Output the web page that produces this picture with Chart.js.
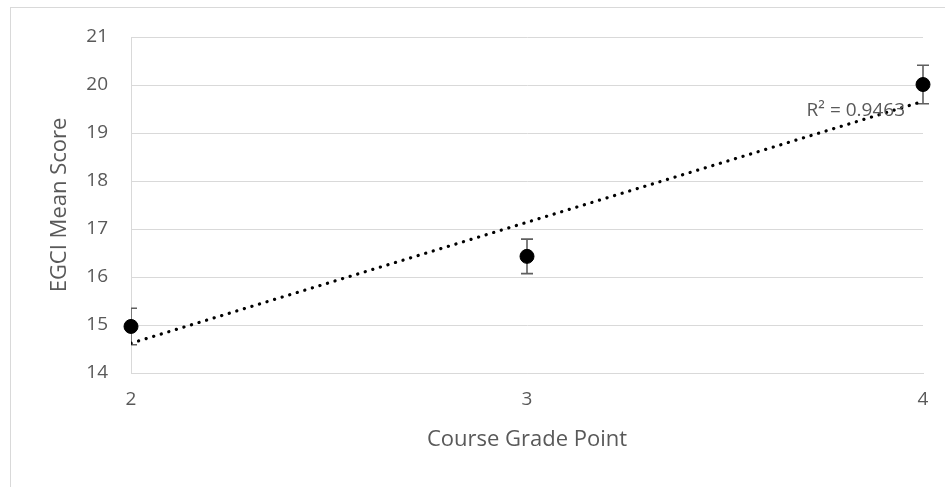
<!DOCTYPE html>
<html>
<head>
<meta charset="utf-8">
<script src="https://cdn.jsdelivr.net/npm/chart.js@4/dist/chart.umd.min.js"></script>
<style>
  html, body { margin: 0; padding: 0; background: #ffffff; }
  #wrap { width: 945px; height: 487px; position: relative; }
</style>
</head>
<body>
<div id="wrap"><canvas id="c" width="945" height="487"></canvas></div>
<script>
// ---- data ----
const gradePoints = [2, 3, 4];
const meanScores = [14.97, 16.43, 20.01];
const errorMargins = [0.38, 0.36, 0.40];
const trendX = [2, 4];
const trendY = [14.62, 19.66];
const yTickValues = [14, 15, 16, 17, 18, 19, 20, 21];
const xTickValues = [2, 3, 4];
const rSquaredLabel = 'R² = 0.9463';
const xTitle = 'Course Grade Point';
const yTitle = 'EGCI Mean Score';

const TEXT = '#595959';
const GRID = '#d9d9d9';
const FONT = "'Open Sans', 'Liberation Sans', sans-serif";

const pointData = gradePoints.map((x, i) => ({ x: x, y: meanScores[i] }));
const trendData = trendX.map((x, i) => ({ x: x, y: trendY[i] }));

const frame = {
  id: 'frame',
  beforeDraw(chart) {
    const ctx = chart.ctx;
    ctx.save();
    ctx.fillStyle = '#ffffff';
    ctx.fillRect(0, 0, chart.width, chart.height);
    ctx.strokeStyle = GRID;
    ctx.lineWidth = 1;
    ctx.strokeRect(10.5, 7.5, chart.width + 20, chart.height + 20);
    ctx.restore();
  }
};

const errorBars = {
  id: 'errorBars',
  beforeDatasetsDraw(chart) {
    const ctx = chart.ctx;
    const xs = chart.scales.x, ys = chart.scales.y;
    const a = chart.chartArea;
    ctx.save();
    ctx.beginPath();
    ctx.rect(a.left, a.top - 30, a.right - a.left + 12, a.bottom - a.top + 60);
    ctx.clip();
    ctx.strokeStyle = '#5f5f5f';
    ctx.lineWidth = 1.6;
    gradePoints.forEach((gx, i) => {
      const px = xs.getPixelForValue(gx);
      const top = ys.getPixelForValue(meanScores[i] + errorMargins[i]);
      const bot = ys.getPixelForValue(meanScores[i] - errorMargins[i]);
      ctx.beginPath();
      ctx.moveTo(px, top); ctx.lineTo(px, bot);
      ctx.moveTo(px - 6, top); ctx.lineTo(px + 6, top);
      ctx.moveTo(px - 6, bot); ctx.lineTo(px + 6, bot);
      ctx.stroke();
    });
    ctx.restore();
  },
  afterDatasetsDraw(chart) {
    const ctx = chart.ctx;
    const xs = chart.scales.x, ys = chart.scales.y;
    ctx.save();
    ctx.font = "19px " + FONT;
    ctx.fillStyle = TEXT;
    ctx.textAlign = 'right';
    ctx.textBaseline = 'middle';
    ctx.fillText(rSquaredLabel, xs.getPixelForValue(gradePoints[2]) - 18, ys.getPixelForValue(19.47));
    ctx.restore();
  }
};

new Chart(document.getElementById('c'), {
  type: 'scatter',
  data: {
    datasets: [
      {
        label: 'Trend',
        data: trendData,
        showLine: true,
        borderColor: '#000000',
        borderWidth: 3.2,
        borderDash: [0.1, 7.8],
        borderCapStyle: 'round',
        pointRadius: 0,
        fill: false,
        order: 1
      },
      {
        label: 'EGCI Mean Score',
        data: pointData,
        backgroundColor: '#000000',
        borderColor: '#000000',
        borderWidth: 1,
        pointRadius: 7,
        pointHoverRadius: 7,
        clip: false,
        order: 0
      }
    ]
  },
  options: {
    responsive: false,
    animation: false,
    events: [],
    layout: { padding: { left: 0, right: 22, top: 37, bottom: 0 } },
    plugins: { legend: { display: false }, tooltip: { enabled: false } },
    scales: {
      x: {
        type: 'linear',
        min: 2, max: 4,
        afterBuildTicks(scale) { scale.ticks = xTickValues.map(v => ({ value: v })); },
        afterFit(scale) { scale.height = 114; },
        grid: { display: false, drawTicks: false },
        border: { display: true, color: GRID, width: 1 },
        ticks: { color: TEXT, padding: 15, font: { family: FONT, size: 19 } },
        title: { display: true, text: xTitle, color: TEXT, padding: { top: 0, bottom: 34 }, font: { family: FONT, size: 22 } }
      },
      y: {
        type: 'linear',
        min: 14, max: 21,
        afterBuildTicks(scale) { scale.ticks = yTickValues.map(v => ({ value: v })); },
        afterFit(scale) { scale.width = 131; },
        grid: { color: GRID, lineWidth: 1, drawTicks: false },
        border: { display: true, color: GRID, width: 1 },
        ticks: { color: TEXT, padding: 23, font: { family: FONT, size: 19 } },
        title: { display: true, text: yTitle, color: TEXT, padding: { top: 47, bottom: 0 }, font: { family: FONT, size: 22 } }
      }
    }
  },
  plugins: [frame, errorBars]
});
</script>
</body>
</html>
